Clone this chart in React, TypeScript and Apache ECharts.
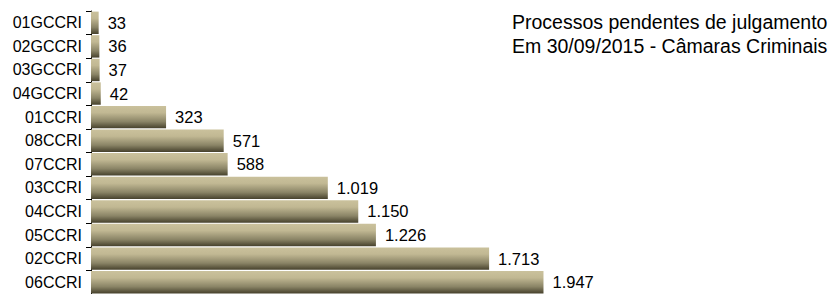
import React, { useEffect, useRef } from "react";
import * as echarts from "echarts";

const categories = [
  "01GCCRI", "02GCCRI", "03GCCRI", "04GCCRI", "01CCRI", "08CCRI",
  "07CCRI", "03CCRI", "04CCRI", "05CCRI", "02CCRI", "06CCRI",
];
const values = [33, 36, 37, 42, 323, 571, 588, 1019, 1150, 1226, 1713, 1947];
const titleLines = [
  "Processos pendentes de julgamento",
  "Em 30/09/2015 - Câmaras Criminais",
];

const fmt = (v: number) =>
  String(v).replace(/\B(?=(\d{3})+(?!\d))/g, ".");

export default function App() {
  const ref = useRef<HTMLDivElement>(null);
  useEffect(() => {
    if (!ref.current) return;
    const chart = echarts.init(ref.current, undefined, { renderer: "svg" });
    const font = "'Liberation Sans', Arial, sans-serif";
    chart.setOption({
      animation: false,
      grid: { left: 91, top: 11, width: 581, height: 286, containLabel: false },
      xAxis: {
        type: "value",
        min: 0,
        max: 2500,
        show: false,
      },
      yAxis: {
        type: "category",
        inverse: true,
        data: categories,
        axisLine: { show: true, lineStyle: { color: "#000", width: 1 } },
        axisTick: { show: true, length: 5, lineStyle: { color: "#000" } },
        axisLabel: {
          color: "#000",
          fontSize: 16,
          fontFamily: font,
          margin: 9,
        },
        splitLine: { show: false },
      },
      graphic: titleLines.map((t, i) => ({
        type: "text",
        x: 512,
        y: 22 + i * 24,
        style: {
          text: t,
          fontSize: 19.5,
          fontFamily: font,
          fill: "#000",
          verticalAlign: "middle",
        },
      })),
      series: [
        {
          type: "bar",
          data: values,
          barCategoryGap: "5%",
          itemStyle: {
            color: new echarts.graphic.LinearGradient(0, 0, 0, 1, [
              { offset: 0, color: "#cac19c" },
              { offset: 0.3, color: "#c1b893" },
              { offset: 0.7, color: "#8a8466" },
              { offset: 1, color: "#46412c" },
            ]),
          },
          label: {
            show: true,
            position: "right",
            distance: 9,
            color: "#000",
            fontSize: 16.5,
            fontFamily: font,
            formatter: (p: any) => fmt(p.value),
          },
        },
      ],
    });
    return () => chart.dispose();
  }, []);
  return (
    <div
      ref={ref}
      style={{ position: "absolute", left: 0, top: 0, width: 835, height: 294, background: "#fff" }}
    />
  );
}
